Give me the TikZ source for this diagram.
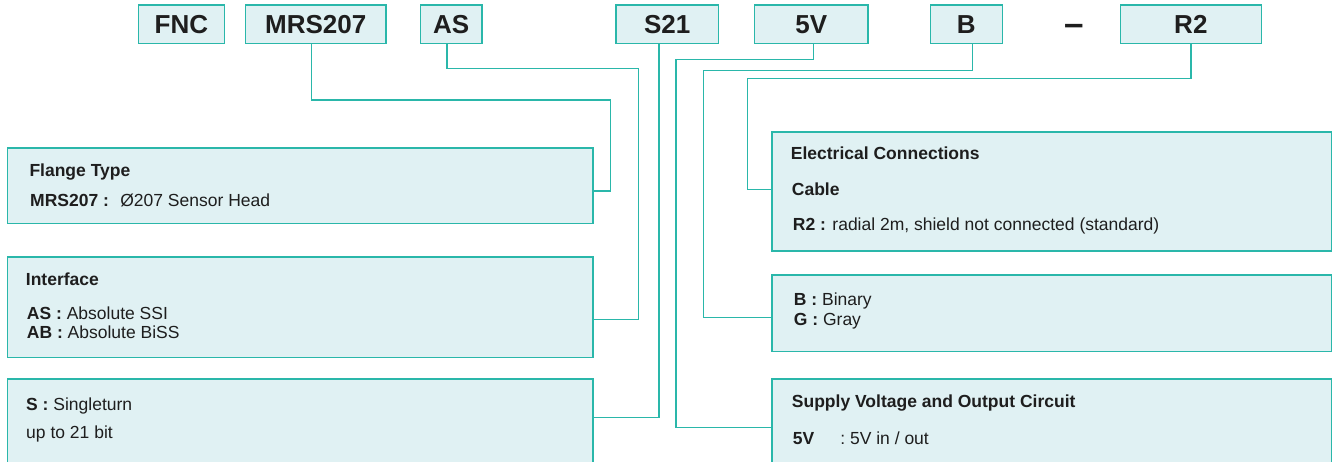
\documentclass[tikz,border=0pt]{standalone}
\usepackage{fontspec}
\setmainfont{Liberation Sans}
\usetikzlibrary{positioning}
\definecolor{tealline}{HTML}{2AB7AA}
\definecolor{boxfill}{HTML}{E0F1F3}
\definecolor{ink}{HTML}{1E1E1E}

\begin{document}
\begin{tikzpicture}[x=1pt, y=-1pt,
  code/.style = {draw=tealline, fill=boxfill, line width=1.6pt, inner sep=0pt, anchor=north west, minimum height=38.4pt, text=ink, font=\fontsize{26}{30}\selectfont\bfseries},
  panel/.style = {draw=tealline, fill=boxfill, line width=1.6pt, inner sep=0pt, anchor=north west},
  txt/.style = {anchor=base west, inner sep=0pt, text=ink, font=\fontsize{17.5}{21}\selectfont},
  wire/.style = {draw=tealline, line width=1.4pt}]
  \useasboundingbox (0,0) rectangle (1333,461);
  \clip (0,0) rectangle (1333,461);

  % order code
  \node[code, minimum width=86.2pt] (fnc) at (137.5,4.3) {FNC};
  \node[code, minimum width=140.7pt] (mrs) at (244.6,4.3) {MRS207};
  \node[code, minimum width=61.7pt] (as) at (419.6,4.3) {AS};
  \node[code, minimum width=102.3pt] (s21) at (615.2,4.3) {S21};
  \node[code, minimum width=113.6pt] (fivev) at (753.7,4.3) {5V};
  \node[code, minimum width=71.9pt] (bin) at (929.6,4.3) {B};
  \node[inner sep=0pt, text=ink, font=\fontsize{35}{38}\selectfont\bfseries] (dash) at (1074,30) {–};
  \node[code, minimum width=141.1pt] (rtwo) at (1119.5,4.3) {R2};

  % left panels
  \node[panel, minimum width=585.5pt, minimum height=75.4pt] (flange) at (6.5,147.3) {};
  \node[panel, minimum width=585.5pt, minimum height=100.7pt] (iface) at (6.5,256) {};
  \node[panel, minimum width=585.5pt, minimum height=95pt] (single) at (6.5,378) {};
  % right panels
  \node[panel, minimum width=559.7pt, minimum height=119pt] (elec) at (771,131) {};
  \node[panel, minimum width=559.7pt, minimum height=76.4pt] (coding) at (771,274.3) {};
  \node[panel, minimum width=559.7pt, minimum height=95pt] (supply) at (771,378.3) {};

  \node[txt] (flangeH) at (29.3,176.7) {\textbf{Flange Type}};
  \node[txt] (flangeA) at (30,206) {\textbf{MRS207 :}~ Ø207 Sensor Head};
  \node[txt] (ifaceH) at (25.7,285.7) {\textbf{Interface}};
  \node[txt] (ifaceA) at (26.7,319) {\textbf{AS :} Absolute SSI};
  \node[txt] (ifaceB) at (26.7,338.3) {\textbf{AB :} Absolute BiSS};
  \node[txt] (singleA) at (26,410) {\textbf{S :} Singleturn};
  \node[txt] (singleB) at (26,438.3) {up to 21 bit};
  \node[txt] (elecH) at (790.7,159) {\textbf{Electrical Connections}};
  \node[txt] (elecC) at (791.7,195.7) {\textbf{Cable}};
  \node[txt] (elecA) at (792.7,230) {\textbf{R2 :} radial 2m, shield not connected (standard)};
  \node[txt] (codingA) at (793.7,305) {\textbf{B :} Binary};
  \node[txt] (codingB) at (793.7,325.7) {\textbf{G :} Gray};
  \node[txt] (supplyH) at (791.7,407.3) {\textbf{Supply Voltage and Output Circuit}};
  \node[txt] (supplyA) at (792.7,444) {\textbf{5V}\hspace{26pt}: 5V in / out};

  % bends
  \coordinate (m1) at (311.7,100);
  \coordinate (m2) at (610.7,191);
  \coordinate (a1) at (446.9,68.3);
  \coordinate (a2) at (638.4,319.3);
  \coordinate (s1) at (659,417.7);
  \coordinate (v1) at (813.3,59.3);
  \coordinate (v2) at (676.1,427.7);
  \coordinate (b1) at (972.3,70.3);
  \coordinate (b2) at (703.6,317.7);
  \coordinate (r1) at (1191,78.3);
  \coordinate (r2) at (747.6,189.3);

  \draw[wire] (mrs.south -| m1) -- (m1) -| (m2) -- (flange.east |- m2);
  \draw[wire] (as.south -| a1) -- (a1) -| (a2) -- (iface.east |- a2);
  \draw[wire] (s21.south -| s1) -- (s1) -- (single.east |- s1);
  \draw[wire] (fivev.south -| v1) -- (v1) -| (v2) -- (supply.west |- v2);
  \draw[wire] (bin.south -| b1) -- (b1) -| (b2) -- (coding.west |- b2);
  \draw[wire] (rtwo.south -| r1) -- (r1) -| (r2) -- (elec.west |- r2);
\end{tikzpicture}
\end{document}
